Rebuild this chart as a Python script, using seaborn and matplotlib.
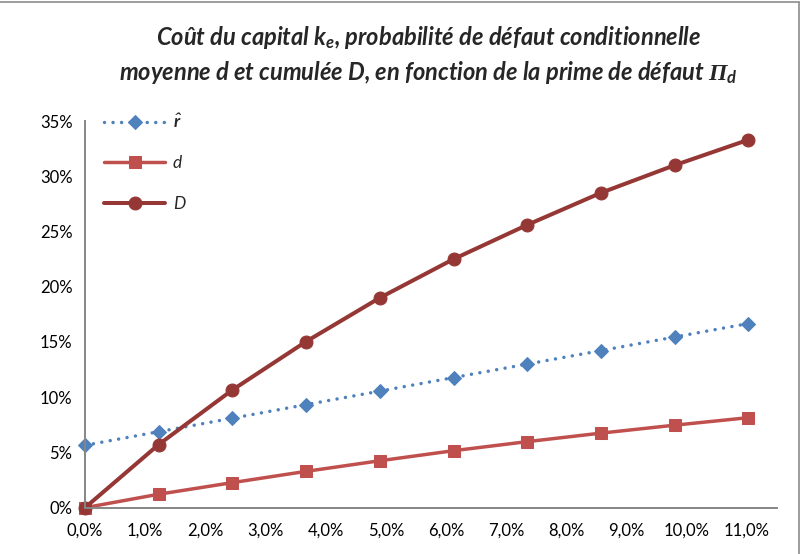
import matplotlib
matplotlib.use("Agg")
import matplotlib.pyplot as plt
import seaborn as sns
import pandas as pd
from matplotlib.ticker import FuncFormatter
from matplotlib.lines import Line2D

# Default premium Π_d (in %)
prime_defaut = [0.0, 1.225, 2.45, 3.675, 4.90, 6.125, 7.35, 8.575, 9.80, 11.025]
# Cost of capital r̂ (in %)
r_hat = [5.65, 6.88, 8.10, 9.33, 10.55, 11.78, 13.00, 14.22, 15.45, 16.67]
# Mean conditional default probability d (in %)
d_moy = [0.0, 1.22, 2.27, 3.29, 4.25, 5.16, 5.98, 6.75, 7.47, 8.15]
# Cumulative default probability D (in %)
D_cum = [0.0, 5.72, 10.66, 15.04, 19.00, 22.50, 25.60, 28.50, 31.00, 33.30]

x_ticks = list(range(0, 12))
y_ticks = list(range(0, 36, 5))

title = ("Coût du capital $k_{e}$, probabilité de défaut conditionnelle\n"
         "moyenne d et cumulée D, en fonction de la prime de défaut $\\Pi_{d}$")

sns.set_theme(style="white")
plt.rcParams["font.family"] = ["Lato", "DejaVu Sans"]
plt.rcParams["mathtext.fontset"] = "custom"
plt.rcParams["mathtext.it"] = "Lato:italic:bold"
plt.rcParams["mathtext.rm"] = "Liberation Serif:italic:bold"
plt.rcParams["mathtext.bf"] = "Lato:bold"

df = pd.DataFrame({"x": prime_defaut, "r": r_hat, "d": d_moy, "D": D_cum})

fig = plt.figure(figsize=(8.05, 5.54), dpi=100)
ax = fig.add_axes([85 / 805, 1 - 507.7 / 554, 692 / 805, 386.7 / 554])

blue = "#4F81BD"
red = "#C0504D"
dark = "#953735"

sns.lineplot(data=df, x="x", y="r", ax=ax, color=blue, lw=2.5,
             linestyle=(0, (0.01, 2.45)), dash_capstyle="round",
             marker="D", ms=7.3, mec=blue, mfc=blue, label="$\\hat{r}$")
sns.lineplot(data=df, x="x", y="d", ax=ax, color=red, lw=2.5,
             marker="s", ms=8.2, mec=red, mfc=red, label="d")
sns.lineplot(data=df, x="x", y="D", ax=ax, color=dark, lw=2.9,
             marker="o", ms=9.3, mec=dark, mfc=dark, label="D")

ax.set_xlim(0, 11.5)
ax.set_ylim(0, 35)
ax.set_xticks(x_ticks)
ax.set_yticks(y_ticks)
ax.xaxis.set_major_formatter(FuncFormatter(lambda v, _: f"{v:.1f}%".replace(".", ",")))
ax.yaxis.set_major_formatter(FuncFormatter(lambda v, _: f"{v:.0f}%"))
ax.set_xlabel("")
ax.set_ylabel("")

axis_grey = "#868686"
for side in ("top", "right"):
    ax.spines[side].set_visible(False)
for side in ("left", "bottom"):
    ax.spines[side].set_color(axis_grey)
    ax.spines[side].set_linewidth(1.4)
ax.tick_params(axis="both", which="major", direction="out", length=5, width=1.2,
               color=axis_grey, labelsize=12, labelcolor="#000000", pad=4)
ax.tick_params(axis="x", pad=6)
for line in ax.lines:
    line.set_clip_on(False)

leg = ax.legend(loc="upper left", bbox_to_anchor=(0.028, 1.022), frameon=False,
                handlelength=3.5, handletextpad=0.45, labelspacing=1.4,
                borderaxespad=0, borderpad=0,
                prop={"family": ["Lato", "DejaVu Sans"], "style": "italic", "size": 12.5})

fig.text(0.532, 1 - 55 / 554, title, ha="center", va="center",
         fontsize=17, fontweight="bold", fontstyle="italic", linespacing=1.35)

# Chart area border (top and right edges)
fig.add_artist(Line2D([0, 0.993], [0.996, 0.996], transform=fig.transFigure,
                      color="#8c8c8c", lw=1.2))
fig.add_artist(Line2D([0.993, 0.993], [0, 0.996], transform=fig.transFigure,
                      color="#8c8c8c", lw=1.2))

fig.savefig("out.png", dpi=100, facecolor="white")
